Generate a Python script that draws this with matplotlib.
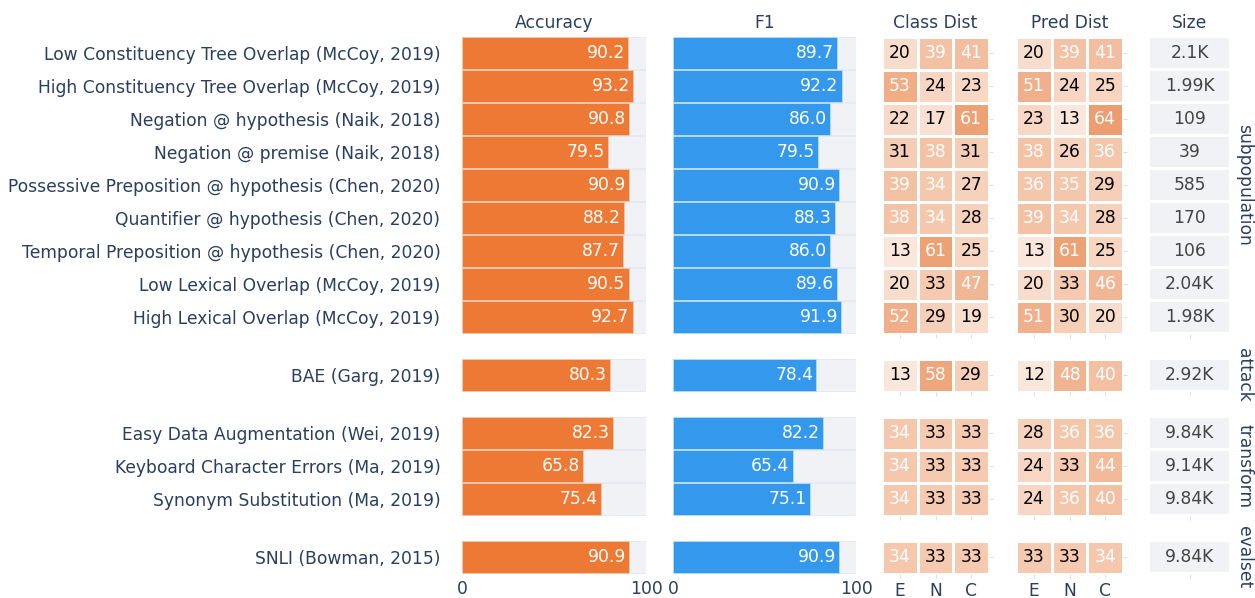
import numpy as np
import matplotlib
matplotlib.use("Agg")
import matplotlib.pyplot as plt
from matplotlib.colors import LinearSegmentedColormap

labels = [
    "Low Constituency Tree Overlap (McCoy, 2019)",
    "High Constituency Tree Overlap (McCoy, 2019)",
    "Negation @ hypothesis (Naik, 2018)",
    "Negation @ premise (Naik, 2018)",
    "Possessive Preposition @ hypothesis (Chen, 2020)",
    "Quantifier @ hypothesis (Chen, 2020)",
    "Temporal Preposition @ hypothesis (Chen, 2020)",
    "Low Lexical Overlap (McCoy, 2019)",
    "High Lexical Overlap (McCoy, 2019)",
    "BAE (Garg, 2019)",
    "Easy Data Augmentation (Wei, 2019)",
    "Keyboard Character Errors (Ma, 2019)",
    "Synonym Substitution (Ma, 2019)",
    "SNLI (Bowman, 2015)",
]
groups = ["subpopulation"] * 9 + ["attack"] + ["transform"] * 3 + ["evalset"]
accuracy = [90.2, 93.2, 90.8, 79.5, 90.9, 88.2, 87.7, 90.5, 92.7, 80.3, 82.3, 65.8, 75.4, 90.9]
f1 = [89.7, 92.2, 86.0, 79.5, 90.9, 88.3, 86.0, 89.6, 91.9, 78.4, 82.2, 65.4, 75.1, 90.9]
class_dist = [[20, 39, 41], [53, 24, 23], [22, 17, 61], [31, 38, 31], [39, 34, 27],
              [38, 34, 28], [13, 61, 25], [20, 33, 47], [52, 29, 19], [13, 58, 29],
              [34, 33, 33], [34, 33, 33], [34, 33, 33], [34, 33, 33]]
pred_dist = [[20, 39, 41], [51, 24, 25], [23, 13, 64], [38, 26, 36], [36, 35, 29],
             [39, 34, 28], [13, 61, 25], [20, 33, 46], [51, 30, 20], [12, 48, 40],
             [28, 36, 36], [24, 33, 44], [24, 36, 40], [33, 33, 34]]
sizes = [2100, 1990, 109, 39, 585, 170, 106, 2040, 1980, 2920, 9840, 9140, 9840, 9840]
dist_labels = ["E", "N", "C"]
titles = ["Accuracy", "F1", "Class Dist", "Pred Dist", "Size"]

W, H = 1255, 598
ROW, GAP, TOP = 33, 25, 36.5
COLS = [(462, 646), (673, 856), (882, 989), (1016, 1123), (1150, 1229)]
NAVY = "#2a3f5f"
ORANGE = "#ed7935"
BLUE = "#3499ec"
GREY = "#f1f2f6"
TICKC = "#dde1e7"
FS = 12.3

cmap = LinearSegmentedColormap.from_list("dist", ["#ffffff", "#e36b25"])

fig = plt.figure(figsize=(W / 100, H / 100), dpi=100)


def px_axes(x0, x1, y0, y1):
    return fig.add_axes([x0 / W, 1 - y1 / H, (x1 - x0) / W, (y1 - y0) / H])


def fmt_size(v):
    return f"{v / 1000:.3g}K" if v >= 1000 else str(v)


# group rows in order of appearance
order = []
for g in groups:
    if g not in order:
        order.append(g)

y = TOP
for gi, g in enumerate(order):
    idx = [i for i, gg in enumerate(groups) if gg == g]
    n = len(idx)
    y0, y1 = y, y + n * ROW
    last = gi == len(order) - 1
    rows = np.arange(n)

    # bar columns
    for ci, (vals, col) in enumerate([(accuracy, ORANGE), (f1, BLUE)]):
        ax = px_axes(COLS[ci][0], COLS[ci][1], y0, y1)
        v = np.array([vals[i] for i in idx])
        ax.barh(rows, 100 - v, left=v, height=0.94, color=GREY, edgecolor="#e4e8f0", lw=0.6)
        ax.barh(rows, v, height=0.94, color=col, edgecolor="#f0c8b0" if ci == 0 else "#b8dcf8", lw=0.6)
        for r, val in zip(rows, v):
            ax.text(val - 1.8, r, f"{val:.1f}", ha="right", va="center", color="white", fontsize=FS)
        ax.set_xlim(0, 100)
        ax.set_ylim(n - 0.5, -0.5)
        for s in ax.spines.values():
            s.set_visible(False)
        if ci == 0:
            ax.set_yticks(rows)
            ax.set_yticklabels([labels[i] for i in idx], fontsize=FS, color=NAVY)
            ax.tick_params(axis="y", length=0, pad=15.5)
        else:
            ax.set_yticks([])
        ax.set_xticks([0, 100])
        if last:
            ax.set_xticklabels(["0", "100"], fontsize=FS, color=NAVY)
            ax.tick_params(axis="x", length=0, pad=5)
        else:
            ax.set_xticklabels([])
            ax.tick_params(axis="x", length=0)

    # distribution heatmaps
    for ci, dist in [(2, class_dist), (3, pred_dist)]:
        ax = px_axes(COLS[ci][0], COLS[ci][1], y0, y1)
        z = np.array([dist[i] for i in idx], dtype=float)
        ax.pcolormesh(np.arange(4), np.arange(n + 1), z, cmap=cmap, vmin=-5, vmax=100,
                      edgecolors="white", linewidth=0.8)
        for r in range(n):
            for c in range(3):
                val = z[r, c]
                ax.text(c + 0.5, r + 0.5, f"{val:.0f}", ha="center", va="center",
                        fontsize=FS, color="white" if val >= 34 else "black")
        ax.set_xlim(0, 3)
        ax.set_ylim(n, 0)
        for s in ax.spines.values():
            s.set_visible(False)
        ax.set_xticks([0.5, 1.5, 2.5])
        ax.set_yticks(np.arange(n) + 0.5)
        ax.yaxis.tick_right()
        ax.set_yticklabels([])
        ax.tick_params(axis="y", length=3, color=TICKC, width=0.8)
        if last:
            ax.set_xticklabels(dist_labels, fontsize=FS, color=NAVY)
            ax.tick_params(axis="x", length=3, color=TICKC, width=0.8, pad=3)
        else:
            ax.set_xticklabels([])
            ax.tick_params(axis="x", length=3, color=TICKC, width=0.8)

    # size column
    ax = px_axes(COLS[4][0], COLS[4][1], y0, y1)
    ax.barh(rows, [1] * n, height=0.92, color=GREY)
    for r, i in zip(rows, idx):
        ax.text(0.5, r, fmt_size(sizes[i]), ha="center", va="center", fontsize=FS, color="#444444")
    ax.set_xlim(0, 1)
    ax.set_ylim(n - 0.5, -0.5)
    for s in ax.spines.values():
        s.set_visible(False)
    ax.set_xticks([0.5])
    ax.set_xticklabels([])
    ax.set_yticks([])
    ax.tick_params(axis="x", length=3, color=TICKC, width=0.8)

    # group label on the right
    fig.text(1244 / W, 1 - (y0 + y1) / 2 / H, g, rotation=-90, ha="center", va="center",
             fontsize=FS, color=NAVY)

    y = y1 + GAP

for (x0, x1), t in zip(COLS, titles):
    fig.text((x0 + x1) / 2 / W, 1 - 23 / H, t, ha="center", va="center", fontsize=FS, color=NAVY)

fig.savefig("out.png", dpi=100)
